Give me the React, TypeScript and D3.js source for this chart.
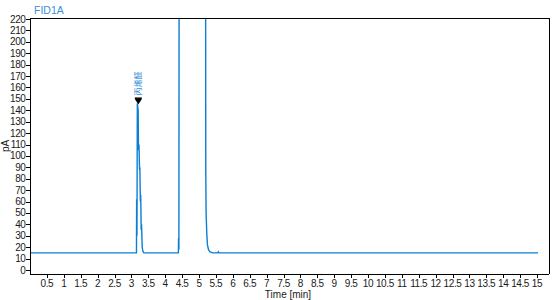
import React from "react";
import * as d3 from "d3";

const times = [0, 3.15, 3.155, 3.165, 3.175, 3.2, 3.21, 3.225, 3.24, 3.25, 3.265, 3.275, 3.29, 3.3, 3.32, 3.33, 3.345, 3.37, 4.39, 4.395, 4.405, 4.41, 4.43, 5.18, 5.2, 5.21, 5.23, 5.25, 5.28, 5.32, 5.4, 5.55, 5.57, 5.59, 15.03];
const signal = [15, 15, 62, 30, 146, 140, 105, 110, 88, 90, 60, 66, 35, 40, 20, 18, 16, 15, 15, 28, 18, 210, 900, 900, 90, 50, 32, 22, 18, 16, 15, 15, 16, 15, 15];
const yTicks = d3.range(0, 221, 10);
const xTicks = d3.range(0.5, 15.01, 0.5);
const peakTime = 3.19;
const peakValue = 146;
const peakLabel = "丙烯醛";
const signalName = "FID1A";

export default function App() {
  const W = 554, H = 300;
  const L = 30, R = 549, T = 18, B = 274;
  const x = d3.scaleLinear().domain([0, 15.355]).range([L, R]);
  const y = d3.scaleLinear().domain([-3.5, 220.9]).range([B, T]);
  const pts: [number, number][] = times.map((t, i) => [t, signal[i]]);
  const line = d3.line<[number, number]>().x(d => x(d[0])).y(d => y(d[1]));
  const font = "'Liberation Sans', Arial, sans-serif";
  const px = x(peakTime), py = y(peakValue);
  return (
    <svg width={W} height={H} style={{ position: "absolute", left: 0, top: 0 }}>
      <rect width={W} height={H} fill="#fff" />
      <defs>
        <clipPath id="plot"><rect x={L} y={T} width={R - L} height={B - T} /></clipPath>
      </defs>
      <text x={34} y={14} fontFamily={font} fontSize={10.5} fill="#3a8fd8">{signalName}</text>
      <g clipPath="url(#plot)">
        <path d={line(pts) || ""} fill="none" stroke="#0a7fd4" strokeWidth={1.4} />
      </g>
      <g stroke="#000" strokeWidth={1} shapeRendering="crispEdges">
        <line x1={L} y1={T} x2={R} y2={T} />
        <line x1={R} y1={T} x2={R} y2={B} />
        <line x1={L} y1={T} x2={L} y2={B} />
        <line x1={L} y1={B} x2={R} y2={B} />
        {yTicks.map(v => <line key={"yt" + v} x1={L - 4} x2={L} y1={Math.round(y(v)) + 0.5} y2={Math.round(y(v)) + 0.5} />)}
        {xTicks.map(v => <line key={"xt" + v} x1={Math.round(x(v)) + 0.5} x2={Math.round(x(v)) + 0.5} y1={B} y2={B + 4} />)}
      </g>
      <g fontFamily={font} fontSize={10} fill="#1a1a1a" letterSpacing={-0.4}>
        {yTicks.map(v => <text key={"yl" + v} x={L - 4.5} y={y(v) + 3.5} textAnchor="end">{v}</text>)}
        {xTicks.map(v => <text key={"xl" + v} x={x(v)} y={B + 13} textAnchor="middle">{String(v)}</text>)}
        <text x={288} y={298} textAnchor="middle" letterSpacing={0}>Time [min]</text>
        <text transform={`translate(9,146) rotate(-90)`} textAnchor="middle" letterSpacing={0}>pA</text>
      </g>
      <g>
        <rect x={px - 3} y={py - 6} width={7} height={1.5} fill="#000" />
        <path d={`M${px - 3},${py - 4.5} L${px + 4},${py - 4.5} L${px + 0.5},${py + 1} Z`} fill="#000" />
        <text transform={`translate(${px + 3},${py - 8}) rotate(-90)`} fontFamily="'Noto Sans CJK SC', sans-serif" fontSize={8} fill="#3a8fd8">{peakLabel}</text>
      </g>
    </svg>
  );
}
